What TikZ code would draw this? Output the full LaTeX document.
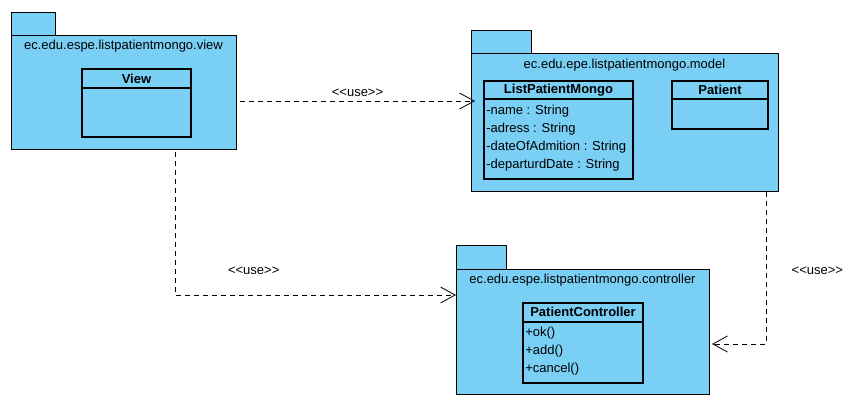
\documentclass[tikz,border=0pt]{standalone}
\usepackage{fontspec}
\setmainfont{Liberation Sans}
\usetikzlibrary{arrows.meta, positioning, calc}
\definecolor{PkgBlue}{RGB}{122, 207, 245}
\newcommand\usestereo{<\kern0pt<use>\kern0pt>}
\begin{document}
\begin{tikzpicture}[x=0.75pt, y=-0.75pt,
        font=\fontsize{9.75}{11}\selectfont,
        sz/.style 2 args={minimum width=#1*0.75pt, minimum height=#2*0.75pt},
        pkgbox/.style={rectangle, draw=black, line width=0.7pt, fill=PkgBlue, anchor=north west, inner sep=0pt, outer sep=0pt},
        clsbox/.style={rectangle, draw=black, line width=0.8pt, fill=PkgBlue, anchor=north west, inner sep=0pt, outer sep=0pt},
        clsname/.style={font=\fontsize{9.75}{11}\selectfont\bfseries, inner sep=0pt},
        member/.style={anchor=west, inner sep=0pt},
        dep/.style={line width=0.6pt, dash pattern=on 3.75pt off 3pt, -{Straight Barb[length=11pt, width=12pt, line width=0.6pt]}},
        uselbl/.style={inner sep=0pt}
    ]
        \useasboundingbox (0,0) rectangle (863,406);
        % view package
        \node[pkgbox, sz={44}{23}] (viewtab) at (11,12) {};
        \node[pkgbox, sz={225}{114}] (viewpkg) at (11,35) {};
        \node (viewtitle) at (123.5,46) {ec.edu.espe.listpatientmongo.view};
        \node[clsbox, sz={109}{68}] (viewcls) at (82,69) {};
        \draw[line width=0.8pt] ([yshift=-19*0.75pt]viewcls.north west) -- ([yshift=-19*0.75pt]viewcls.north east);
        \node[clsname] (viewname) at (136.5,79) {View};
        % model package
        \node[pkgbox, sz={60}{23}] (modeltab) at (471,30) {};
        \node[pkgbox, sz={307}{138}] (modelpkg) at (471,53) {};
        \node (modeltitle) at (624.5,65) {ec.edu.epe.listpatientmongo.model};
        \node[clsbox, sz={149}{98}] (lpmcls) at (484,81) {};
        \draw[line width=0.8pt] ([yshift=-18*0.75pt]lpmcls.north west) -- ([yshift=-18*0.75pt]lpmcls.north east);
        \node[clsname] (lpmname) at (558.5,90) {ListPatientMongo};
        \node[member] (lpm1) at (486,111) {-name : String};
        \node[member] (lpm2) at (486,129) {-adress : String};
        \node[member] (lpm3) at (486,147) {-dateOfAdmition : String};
        \node[member] (lpm4) at (486,165) {-departurdDate : String};
        \node[clsbox, sz={96}{48}] (patcls) at (672,81) {};
        \draw[line width=0.8pt] ([yshift=-18*0.75pt]patcls.north west) -- ([yshift=-18*0.75pt]patcls.north east);
        \node[clsname] (patname) at (720,90) {Patient};
        % controller package
        \node[pkgbox, sz={50}{24}] (ctrltab) at (456,245) {};
        \node[pkgbox, sz={253}{125}] (ctrlpkg) at (456,269) {};
        \node (ctrltitle) at (582.5,280) {ec.edu.espe.listpatientmongo.controller};
        \node[clsbox, sz={120}{80}] (pccls) at (523,303) {};
        \draw[line width=0.8pt] ([yshift=-19*0.75pt]pccls.north west) -- ([yshift=-19*0.75pt]pccls.north east);
        \node[clsname] (pcname) at (583,312) {PatientController};
        \node[member] (pc1) at (525,333) {+ok()};
        \node[member] (pc2) at (525,351) {+add()};
        \node[member] (pc3) at (525,369) {+cancel()};
        % dependencies
        \draw[dep] ([shift={(4,9)}]viewpkg.east) -- node[uselbl, above, yshift=3pt] {\usestereo} ([shift={(4,9)}]viewpkg.east -| modelpkg.west);
        \draw[dep] ([shift={(51.5,3)}]viewpkg.south) |- node[uselbl, pos=0.64, above, yshift=15pt] {\usestereo} ([shift={(0,-36.5)}]ctrlpkg.west);
        \draw[dep] ([shift={(141.5,1)}]modelpkg.south) |- node[uselbl, pos=0.26, right, xshift=19pt] {\usestereo} ([shift={(3,12.5)}]ctrlpkg.east);
    \end{tikzpicture}
\end{document}
